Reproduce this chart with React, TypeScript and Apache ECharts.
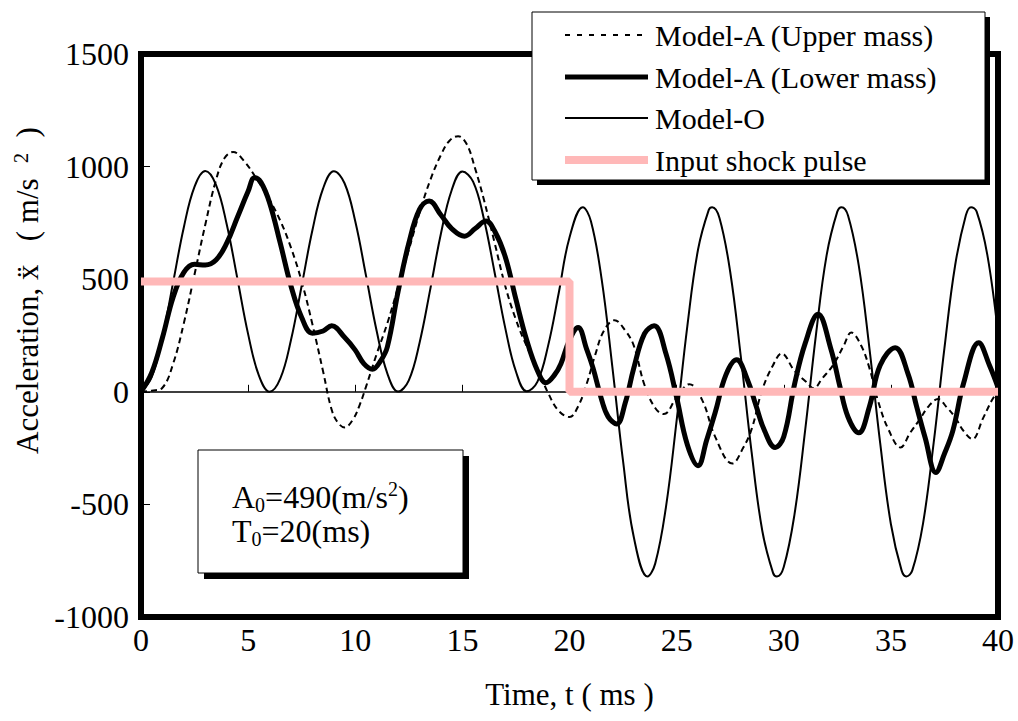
import React, { useEffect, useRef } from "react";
import * as echarts from "echarts";

const FONT = "Liberation Serif";

const seriesNames = [
  "Model-A (Upper mass)",
  "Model-A (Lower mass)",
  "Model-O",
  "Input shock pulse",
];

const xRange = [0, 40];
const xStep = 5;
const yRange = [-1000, 1500];
const yStep = 500;

const upperMass: [number, number][] = [
  [0, 0], [0.5, 5], [1, 18], [1.5, 125], [2, 305], [2.5, 522], [3, 742], [3.5, 940],
  [3.9, 1038], [4.3, 1065], [4.8, 1026], [5.4, 945], [6, 852], [6.5, 760], [7, 640],
  [7.5, 490], [8, 300], [8.5, 90], [8.9, -80], [9.2, -138], [9.5, -158], [9.9, -122],
  [10.2, -60], [10.5, 22], [11, 168], [11.5, 305], [12, 465], [12.5, 630], [13, 795],
  [13.5, 940], [14, 1052], [14.4, 1115], [14.8, 1135], [15.2, 1100], [15.6, 990],
  [16, 855], [16.5, 664], [17, 470], [17.5, 320], [18, 203], [18.5, 105], [19, -5],
  [19.5, -85], [20, -112], [20.4, -65], [20.8, 35], [21.2, 164], [21.6, 270], [22.1, 318],
  [22.6, 272], [23, 205], [23.5, 30], [24, -72], [24.4, -99], [25, -25], [25.6, 34],
  [26.2, -38], [26.8, -200], [27.6, -318], [28.1, -250], [28.5, -166], [29, 10],
  [29.5, 118], [29.9, 170], [30.5, 93], [31, 48], [31.4, 16], [31.8, 60], [32.3, 118],
  [32.8, 205], [33.15, 263], [33.6, 208], [34, 105], [34.4, -40], [34.9, -170],
  [35.45, -247], [35.9, -182], [36.3, -129], [36.8, -60], [37.2, -32], [37.6, -68],
  [38, -114], [38.4, -175], [38.8, -210], [39.3, -118], [39.7, -40], [40, 5],
];

const lowerMass: [number, number][] = [
  [0, 0], [0.5, 85], [1, 240], [1.5, 420], [2, 530], [2.5, 566], [3, 563], [3.5, 585],
  [4, 660], [4.5, 775], [5, 890], [5.3, 950], [5.6, 930], [6, 840], [6.5, 660], [7, 470],
  [7.5, 330], [8, 260], [8.5, 270], [8.9, 293], [9.5, 242], [10, 185], [10.4, 125],
  [10.8, 100], [11.2, 140], [11.5, 200], [12, 445], [12.5, 660], [13, 810], [13.45, 847],
  [14, 785], [14.5, 725], [15.1, 691], [15.6, 725], [16.1, 758], [16.5, 715], [17, 600],
  [17.5, 410], [18, 230], [18.5, 95], [18.9, 40], [19.3, 75], [19.6, 125], [20, 230],
  [20.4, 285], [20.8, 190], [21.1, 105], [21.5, -35], [21.8, -110], [22.2, -143],
  [22.6, -50], [23, 105], [23.5, 258], [23.95, 293], [24.5, 170], [25, -25], [25.5, -235],
  [26, -328], [26.4, -215], [26.8, -92], [27.3, 75], [27.8, 142], [28.3, 55], [28.7, -60],
  [29.1, -172], [29.6, -247], [30, -200], [30.5, 32], [31, 215], [31.6, 344], [32.2, 190],
  [32.6, 32], [33, -112], [33.5, -182], [34, -65], [34.5, 118], [35.2, 196], [35.8, 80],
  [36.2, -65], [36.6, -204], [37.1, -358], [37.5, -275], [37.9, -170], [38.4, 40],
  [39.1, 218], [39.6, 118], [40, 20],
];

const modelO: [number, number][] = [
  [0, 0], [0.5, 65], [1, 243], [1.5, 486], [2, 731], [2.5, 911], [3, 980], [3.5, 919],
  [4, 744], [4.5, 502], [5, 256], [5.5, 73], [6, 0], [6.5, 58], [7, 230], [7.5, 471],
  [8, 717], [8.5, 903], [9, 979], [9.5, 926], [10, 757], [10.5, 517], [11, 270],
  [11.5, 81], [12, 1], [12.5, 51], [13, 217], [13.5, 455], [14, 703], [14.5, 895],
  [15, 978], [15.5, 933], [16, 770], [16.5, 532], [17, 284], [17.5, 90], [18, 2],
  [18.5, 44], [19, 204], [19.5, 440], [20, 685], [20.62, 820], [21, 757], [21.5, 500],
  [22, 111], [22.5, -308], [23, -645], [23.64, -820], [24, -763], [24.5, -513],
  [25, -128], [25.5, 292], [26, 632], [26.5, 808], [26.66, 820], [27, 772], [27.5, 533],
  [28, 153], [28.5, -268], [29, -618], [29.5, -804], [29.68, -820], [30, -778],
  [30.5, -545], [31, -170], [31.5, 251], [32, 606], [32.5, 800], [32.7, 820], [33, 783],
  [33.5, 561], [34, 192], [34.5, -227], [35, -587], [35.5, -793], [35.72, -820],
  [36, -793], [36.5, -585], [37, -225], [37.5, 194], [38, 562], [38.5, 784],
  [38.74, 820], [39, 801], [39.5, 609], [40, 258],
];

const shockPulse: [number, number][] = [
  [0, 490], [20, 490], [20, 0], [40, 0],
];

const PINK = "#FFB8B8";

export default function App() {
  const ref = useRef<HTMLDivElement>(null);

  useEffect(() => {
    if (!ref.current) return;
    const chart = echarts.init(ref.current, null, { renderer: "svg" });

    const legendRows = [35, 77, 118, 160];
    const legendLineStyles = [
      { stroke: "#000", lineWidth: 2, lineDash: [5, 7] },
      { stroke: "#000", lineWidth: 5 },
      { stroke: "#000", lineWidth: 2 },
      { stroke: PINK, lineWidth: 8 },
    ];

    const legendGraphics: any[] = [
      { type: "rect", z: 100, shape: { x: 537, y: 17, width: 453, height: 168 }, style: { fill: "#000" } },
      { type: "rect", z: 101, shape: { x: 532, y: 12, width: 453, height: 168 }, style: { fill: "#fff", stroke: "#000", lineWidth: 1 } },
    ];
    seriesNames.forEach((name, i) => {
      legendGraphics.push({
        type: "line",
        z: 102,
        shape: { x1: 565, y1: legendRows[i], x2: 648, y2: legendRows[i] },
        style: legendLineStyles[i],
      });
      legendGraphics.push({
        type: "text",
        z: 102,
        x: 655,
        y: legendRows[i],
        style: {
          text: name,
          fontSize: 30,
          fontFamily: FONT,
          fill: "#000",
          verticalAlign: "middle",
          align: "left",
        },
      });
    });

    const richMain = { fontSize: 32, fontFamily: FONT, fill: "#000", lineHeight: 36, verticalAlign: "middle" };
    const richSub = { fontSize: 20, fontFamily: FONT, fill: "#000", verticalAlign: "bottom" };
    const richSup = { fontSize: 20, fontFamily: FONT, fill: "#000", verticalAlign: "top" };

    const noteGraphics: any[] = [
      { type: "rect", z: 100, shape: { x: 204, y: 456, width: 265, height: 123 }, style: { fill: "#000" } },
      { type: "rect", z: 101, shape: { x: 198, y: 450, width: 265, height: 123 }, style: { fill: "#fff", stroke: "#000", lineWidth: 1 } },
      {
        type: "text",
        z: 102,
        x: 232,
        y: 497,
        style: {
          text: "{a|A}{s|0}{a|=490(m/s}{p|2}{a|)}",
          verticalAlign: "middle",
          rich: { a: richMain, s: richSub, p: richSup },
        },
      },
      {
        type: "text",
        z: 102,
        x: 232,
        y: 531,
        style: {
          text: "{a|T}{s|0}{a|=20(ms)}",
          verticalAlign: "middle",
          rich: { a: richMain, s: richSub, p: richSup },
        },
      },
    ];

    const option: any = {
      animation: false,
      backgroundColor: "#fff",
      textStyle: { fontFamily: FONT, color: "#000" },
      grid: {
        left: 141,
        right: 20,
        top: 54,
        bottom: 104,
        show: true,
        borderColor: "#000",
        borderWidth: 6,
        backgroundColor: "transparent",
        containLabel: false,
        outerBoundsMode: "none",
      },
      xAxis: [
        {
          type: "value",
          min: xRange[0],
          max: xRange[1],
          interval: xStep,
          position: "bottom",
          axisLine: { show: false, onZero: false },
          axisTick: { show: false },
          splitLine: { show: false },
          axisLabel: { color: "#000", fontSize: 32, fontFamily: FONT, margin: 7, formatter: (v: number) => String(v) },
          name: "Time, t ( ms )",
          nameLocation: "middle",
          nameGap: 62,
          nameTextStyle: { color: "#000", fontSize: 31, fontFamily: FONT },
        },
        {
          type: "value",
          min: xRange[0],
          max: xRange[1],
          interval: xStep,
          position: "bottom",
          axisLine: { show: true, onZero: true, onZeroAxisIndex: 0, lineStyle: { color: "#000", width: 1.5 } },
          axisTick: { show: true, inside: true, length: 7, lineStyle: { color: "#000", width: 1 } },
          axisLabel: { show: false },
          splitLine: { show: false },
        },
      ],
      yAxis: {
        type: "value",
        min: yRange[0],
        max: yRange[1],
        interval: yStep,
        axisLine: { show: false },
        axisTick: { show: true, inside: true, length: 9, lineStyle: { color: "#000", width: 1 } },
        splitLine: { show: false },
        axisLabel: { color: "#000", fontSize: 32, fontFamily: FONT, margin: 12, formatter: (v: number) => String(v) },
        name: "{a|Acceleration, ẍ   ( m/s  }{p|2}{a|  )}",
        nameLocation: "middle",
        nameRotate: 90,
        nameGap: 73,
        nameTextStyle: {
          fontFamily: FONT,
          padding: [0, 0, 0, 90],
          rich: {
            a: { fontSize: 31, fontFamily: FONT, color: "#000", lineHeight: 34, verticalAlign: "middle" },
            p: { fontSize: 20, fontFamily: FONT, color: "#000", verticalAlign: "top" },
          },
        },
      },
      series: [
        {
          name: seriesNames[0],
          type: "line",
          data: upperMass,
          xAxisIndex: 0,
          symbol: "none",
          smooth: 0.4,
          silent: true,
          lineStyle: { color: "#000", width: 2, type: [6, 4] },
          z: 2,
        },
        {
          name: seriesNames[1],
          type: "line",
          data: lowerMass,
          xAxisIndex: 0,
          symbol: "none",
          smooth: 0.4,
          silent: true,
          lineStyle: { color: "#000", width: 5 },
          z: 3,
        },
        {
          name: seriesNames[2],
          type: "line",
          data: modelO,
          xAxisIndex: 0,
          symbol: "none",
          smooth: 0.4,
          silent: true,
          lineStyle: { color: "#000", width: 2 },
          z: 3,
        },
        {
          name: seriesNames[3],
          type: "line",
          data: shockPulse,
          xAxisIndex: 0,
          symbol: "none",
          smooth: false,
          silent: true,
          lineStyle: { color: PINK, width: 8 },
          z: 5,
        },
      ],
      graphic: [...legendGraphics, ...noteGraphics],
    };

    chart.setOption(option);
    return () => {
      chart.dispose();
    };
  }, []);

  return (
    <div
      ref={ref}
      style={{ position: "fixed", left: 0, top: 0, width: 1018, height: 721 }}
    />
  );
}
